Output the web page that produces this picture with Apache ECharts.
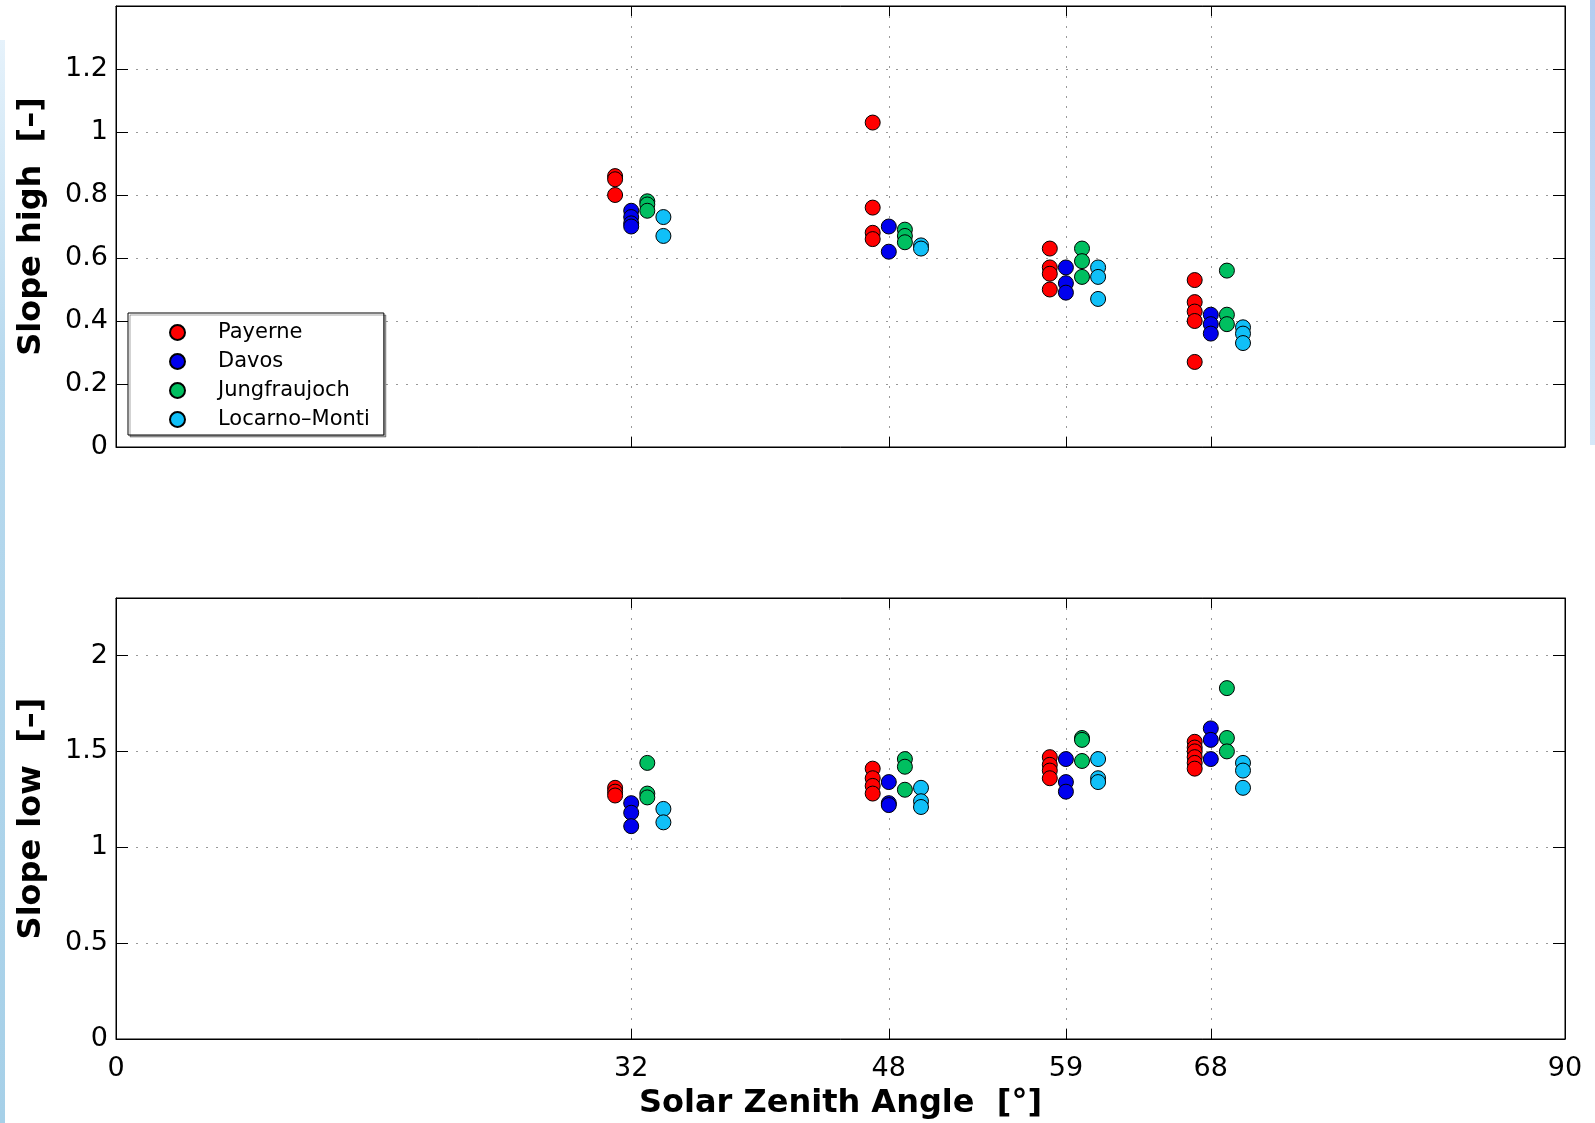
<!DOCTYPE html>
<html>
<head>
<meta charset="utf-8">
<title>Slope high / low vs Solar Zenith Angle</title>
<script src="https://cdn.jsdelivr.net/npm/echarts@6/dist/echarts.min.js"></script>
<style>
    html, body { margin: 0; padding: 0; background: #fff; }
    #main { width: 1595px; height: 1123px; }
</style>
</head>
<body>
<div id="main"></div>
<script>
    var stations = ['Payerne', 'Davos', 'Jungfraujoch', 'Locarno–Monti'];
    var colors = ['#ff0000', '#0000ee', '#00bf60', '#10c0f8'];
    var angleTicks = [0, 32, 48, 59, 68, 90];

    // Slope high: [angle, value]
    var payerneHigh = [[31, 0.86], [31, 0.85], [31, 0.80], [47, 1.03], [47, 0.76], [47, 0.68], [47, 0.66],
        [58, 0.63], [58, 0.57], [58, 0.55], [58, 0.50], [67, 0.53], [67, 0.46], [67, 0.43], [67, 0.40], [67, 0.27]];
    var davosHigh = [[32, 0.75], [32, 0.73], [32, 0.71], [32, 0.70], [48, 0.70], [48, 0.62],
        [59, 0.57], [59, 0.52], [59, 0.49], [68, 0.42], [68, 0.39], [68, 0.36]];
    var jungfrauHigh = [[33, 0.78], [33, 0.77], [33, 0.75], [49, 0.69], [49, 0.67], [49, 0.65],
        [60, 0.63], [60, 0.59], [60, 0.54], [69, 0.56], [69, 0.42], [69, 0.39]];
    var locarnoHigh = [[34, 0.73], [34, 0.67], [50, 0.64], [50, 0.63],
        [61, 0.57], [61, 0.54], [61, 0.47], [70, 0.38], [70, 0.36], [70, 0.33]];

    // Slope low: [angle, value]
    var payerneLow = [[31, 1.31], [31, 1.29], [31, 1.27], [47, 1.41], [47, 1.36], [47, 1.32], [47, 1.28],
        [58, 1.47], [58, 1.43], [58, 1.40], [58, 1.36], [67, 1.55], [67, 1.52], [67, 1.50], [67, 1.47], [67, 1.44], [67, 1.41]];
    var davosLow = [[32, 1.23], [32, 1.18], [32, 1.11], [48, 1.34], [48, 1.23], [48, 1.22],
        [59, 1.46], [59, 1.34], [59, 1.29], [68, 1.62], [68, 1.56], [68, 1.46]];
    var jungfrauLow = [[33, 1.44], [33, 1.28], [33, 1.26], [49, 1.46], [49, 1.42], [49, 1.30],
        [60, 1.57], [60, 1.56], [60, 1.45], [69, 1.83], [69, 1.57], [69, 1.50]];
    var locarnoLow = [[34, 1.20], [34, 1.13], [50, 1.31], [50, 1.24], [50, 1.21],
        [61, 1.46], [61, 1.36], [61, 1.34], [70, 1.44], [70, 1.40], [70, 1.31]];

    var highSets = [payerneHigh, davosHigh, jungfrauHigh, locarnoHigh];
    var lowSets = [payerneLow, davosLow, jungfrauLow, locarnoLow];

    var font = 'DejaVu Sans';
    var dotted = { type: [2, 8], color: '#999', width: 1 };
    var black = { color: '#000', width: 1 };

    function xAxisFor(grid, pos, labels) {
        return {
            type: 'value', gridIndex: grid, position: pos, min: 0, max: 90,
            axisLine: { show: true, onZero: false, lineStyle: black },
            axisTick: { show: true, inside: true, length: 10, customValues: angleTicks, lineStyle: black },
            axisLabel: { show: labels, customValues: angleTicks, color: '#000', fontFamily: font, fontSize: 27, margin: 16 },
            splitLine: { show: pos === 'bottom', lineStyle: dotted }
        };
    }

    function yAxisFor(grid, pos, max, step, name) {
        var left = pos === 'left';
        return {
            type: 'value', gridIndex: grid, position: pos, min: 0, max: max, interval: step,
            name: left ? name : '', nameLocation: 'middle', nameGap: 68,
            nameTextStyle: { color: '#000', fontFamily: font, fontSize: 32, fontWeight: 'bold' },
            axisLine: { show: true, onZero: false, lineStyle: black },
            axisTick: { show: true, inside: true, length: 12, lineStyle: black },
            axisLabel: { show: left, showMaxLabel: false, color: '#000', fontFamily: font, fontSize: 27, margin: 8 },
            splitLine: { show: left, lineStyle: dotted }
        };
    }

    var series = [];
    [highSets, lowSets].forEach(function (sets, g) {
        sets.forEach(function (data, i) {
            series.push({
                name: stations[i],
                type: 'scatter',
                xAxisIndex: g,
                yAxisIndex: g,
                data: data,
                symbol: 'circle',
                symbolSize: 15,
                itemStyle: { color: colors[i], borderColor: '#000', borderWidth: 1, opacity: 1 },
                emphasis: { disabled: true }
            });
        });
    });

    var myChart = echarts.init(document.getElementById('main'));

    var option = {
        backgroundColor: '#fff',
        animation: false,
        graphic: [
            {   // slide background strips at the edges
                type: 'rect', left: 0, top: 40, z: -10,
                shape: { width: 5, height: 1083 },
                style: { fill: new echarts.graphic.LinearGradient(0, 0, 0, 1, [
                    { offset: 0, color: '#e6f2fb' }, { offset: 0.3, color: '#b7d9ee' }, { offset: 1, color: '#a6d0e8' }]) }
            },
            {
                type: 'rect', left: 1590, top: 0, z: -10,
                shape: { width: 5, height: 445 },
                style: { fill: new echarts.graphic.LinearGradient(0, 0, 0, 1, [
                    { offset: 0, color: '#b4cdf0' }, { offset: 1, color: '#d6e8f8' }]) }
            }
        ],
        legend: {
            data: stations,
            orient: 'vertical',
            left: 128,
            top: 313,
            icon: 'circle',
            itemWidth: 15,
            itemHeight: 15,
            itemGap: 8,
            padding: [9, 14, 5, 41],
            backgroundColor: '#fff',
            borderColor: '#000',
            borderWidth: 1,
            shadowColor: 'rgba(0,0,0,0.35)',
            shadowOffsetX: 2,
            shadowOffsetY: 2,
            selectedMode: false,
            textStyle: { color: '#000', fontFamily: font, fontSize: 21, lineHeight: 15, padding: [0, 0, 0, 28] }
        },
        grid: [
            { left: 116, right: 30, top: 6, height: 441, show: true, borderColor: '#000', borderWidth: 1, backgroundColor: '#fff' },
            { left: 116, right: 30, top: 598, height: 441, show: true, borderColor: '#000', borderWidth: 1, backgroundColor: '#fff' }
        ],
        xAxis: [
            xAxisFor(0, 'bottom', false),
            Object.assign(xAxisFor(1, 'bottom', true), {
                name: 'Solar Zenith Angle  [°]', nameLocation: 'middle', nameGap: 49,
                nameTextStyle: { color: '#000', fontFamily: font, fontSize: 32, fontWeight: 'bold' }
            }),
            xAxisFor(0, 'top', false),
            xAxisFor(1, 'top', false)
        ],
        yAxis: [
            yAxisFor(0, 'left', 1.4, 0.2, 'Slope high  [–]'),
            yAxisFor(1, 'left', 2.3, 0.5, 'Slope low  [–]'),
            yAxisFor(0, 'right', 1.4, 0.2, ''),
            yAxisFor(1, 'right', 2.3, 0.5, '')
        ],
        series: series
    };

    myChart.setOption(option);
</script>
</body>
</html>
